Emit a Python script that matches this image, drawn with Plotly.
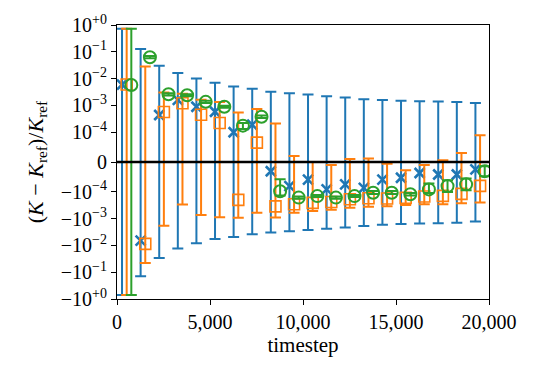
import numpy as np
import plotly.graph_objects as go

# ---------------- data ----------------
group_start = [0, 1000, 2000, 3000, 4000, 5000, 6000, 7000, 8000, 9000,
               10000, 11000, 12000, 13000, 14000, 15000, 16000, 17000, 18000, 19000]
offset_blue, offset_orange, offset_green = 270, 520, 770

blue_value = [6e-3, -6.6e-3, 4.4e-4, 1.6e-3, 8.9e-4, 5.8e-4, 1.0e-4, 1.9e-4, -3.1e-5, -8.1e-5,
              -5.9e-5, -9.2e-5, -7.5e-5, -8.7e-5, -5.9e-5, -5.3e-5, -3.7e-5, -4.2e-5, -4.2e-5, -2.5e-5]
blue_err = [0.72, 0.135, 0.030, 0.0147, 9.15e-3, 6.4e-3, 5.0e-3, 4.0e-3, 3.24e-3, 2.9e-3,
            2.6e-3, 2.28e-3, 2.06e-3, 1.79e-3, 1.64e-3, 1.53e-3, 1.48e-3, 1.44e-3, 1.39e-3, 1.25e-3]

orange_value = [6e-3, -8.8e-3, 5.7e-4, 1.2e-3, 4.5e-4, 2.2e-4, -2.0e-4, 6.5e-5, -3.5e-4, -2.9e-4,
                -2.6e-4, -2.4e-4, -1.9e-4, -1.75e-4, -1.78e-4, -1.69e-4, -1.5e-4, -1.42e-4, -1.2e-4, -8e-5]
orange_err = [0.72, 0.037, 2.43e-3, 1.5e-3, 1.18e-3, 1.12e-3, 7.4e-4, 6.65e-4, 5.6e-4, 3.1e-4,
              2.6e-4, 2.3e-4, 2.0e-4, 1.87e-4, 1.72e-4, 1.41e-4, 1.4e-4, 1.48e-4, 1.5e-4, 1.7e-4]

green_value = [5.8e-3, 6.3e-2, 2.6e-3, 2.4e-3, 1.36e-3, 8.9e-4, 1.76e-4, 3.8e-4, -9.8e-5, -1.65e-4,
               -1.45e-4, -1.65e-4, -1.45e-4, -1.09e-4, -1.09e-4, -1.24e-4, -9.2e-5, -8.1e-5, -7.5e-5, -3.1e-5]
green_err = [0.72, 6e-3, 2.5e-4, 2.2e-4, 1.2e-4, 8e-5, 4.5e-5, 4e-5, 4e-5, 1.5e-5,
             1.3e-5, 1.5e-5, 1.3e-5, 1.2e-5, 1.2e-5, 1.3e-5, 2e-5, 2e-5, 2e-5, 1.7e-5]

y_tick_values = [1, 1e-1, 1e-2, 1e-3, 1e-4, 0, -1e-4, -1e-3, -1e-2, -1e-1, -1]
y_tick_labels = ["10<sup>+0</sup>", "10<sup>−1</sup>", "10<sup>−2</sup>", "10<sup>−3</sup>",
                 "10<sup>−4</sup>", "0", "−10<sup>−4</sup>", "−10<sup>−3</sup>",
                 "−10<sup>−2</sup>", "−10<sup>−1</sup>", "−10<sup>+0</sup>"]
x_tick_values = [0, 5000, 10000, 15000, 20000]

# ---------------- symlog transform (matplotlib style) ----------------
LINTHRESH = 1e-4
LSA = 1.0 / (1.0 - 1.0 / 10.0)


def symlog(v):
    v = np.asarray(v, dtype=float)
    a = np.abs(v)
    lin = v / LINTHRESH * LSA
    logp = np.sign(v) * (LSA + np.log10(np.maximum(a, 1e-300) / LINTHRESH))
    return np.where(a <= LINTHRESH, lin, logp)


FONT = "Liberation Serif"
fig = go.Figure()


def add_series(offset, values, errs, color, symbol, size, lw):
    xs = [g + offset for g in group_start]
    v = np.array(values)
    e = np.array(errs)
    yc = symlog(v)
    up = symlog(v + e) - yc
    dn = yc - symlog(v - e)
    fig.add_trace(go.Scatter(
        x=xs, y=yc, mode="markers",
        marker=dict(symbol=symbol, size=size, color=color,
                    line=dict(width=lw, color=color)),
        error_y=dict(type="data", symmetric=False, array=up, arrayminus=dn,
                     color=color, thickness=2, width=5.5),
        showlegend=False, cliponaxis=True,
    ))


add_series(offset_blue, blue_value, blue_err, "#1f77b4", "x-thin", 10, 2.6)
add_series(offset_orange, orange_value, orange_err, "#ff7f0e", "square-open", 11, 1.6)
add_series(offset_green, green_value, green_err, "#2ca02c", "circle-open", 12, 2.0)

fig.add_shape(type="line", xref="paper", yref="y", x0=0, x1=1, y0=0, y1=0,
              line=dict(color="black", width=2.6), layer="above")

axis_common = dict(showline=True, mirror=True, linecolor="black", linewidth=1.2,
                   ticks="outside", ticklen=5, tickwidth=1.2, tickcolor="black",
                   showgrid=False, zeroline=False,
                   tickfont=dict(family=FONT, size=20, color="black"))

fig.update_xaxes(range=[0, 20000], tickvals=x_tick_values, tickformat=",d",
                 title=dict(text="timestep", font=dict(family=FONT, size=21, color="black"),
                            standoff=4),
                 **axis_common)
fig.update_yaxes(range=[float(symlog(-1)), float(symlog(1))],
                 tickvals=list(symlog(y_tick_values)), ticktext=y_tick_labels,
                 title=dict(text="(<i>K</i> − <i>K</i><sub>ref</sub>)/<i>K</i><sub>ref</sub>",
                            font=dict(family=FONT, size=22, color="black"), standoff=11),
                 **axis_common)

fig.update_layout(width=534, height=375, margin=dict(l=117, r=45, t=22, b=76),
                  plot_bgcolor="white", paper_bgcolor="white",
                  font=dict(family=FONT, color="black"))

fig.write_html("out.html")
